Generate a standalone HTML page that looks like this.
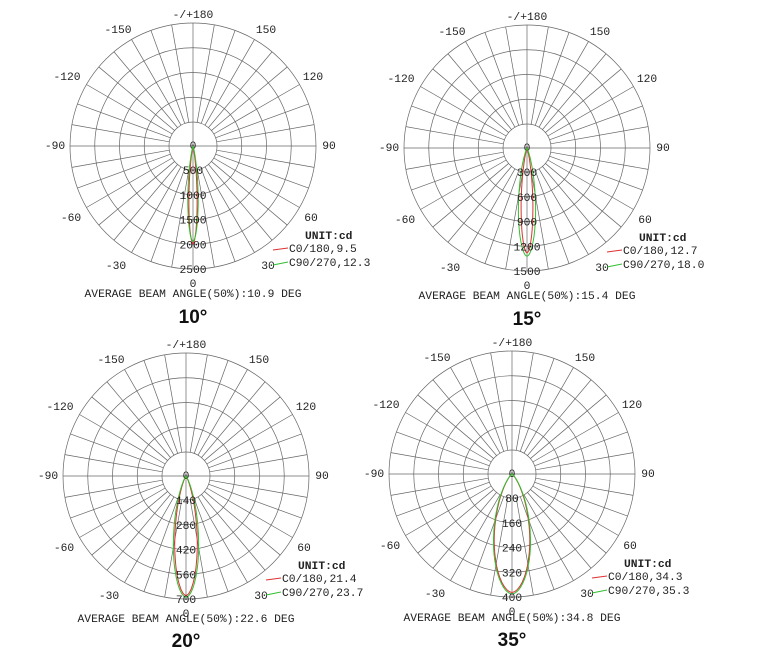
<!DOCTYPE html>
<html><head><meta charset="utf-8"><style>
body{margin:0;background:#fff;width:768px;height:660px;overflow:hidden}
svg{position:absolute;left:0;top:0}
text{font-family:"Liberation Mono",monospace;font-size:11.3px;fill:#222}
.t{font-family:"Liberation Sans",sans-serif;font-size:19px;font-weight:bold;fill:#111}
</style></head><body>
<svg id="s" width="768" height="660" xmlns="http://www.w3.org/2000/svg"></svg>
<script>
var charts=[
 {cx:193,cy:146,vals:[500,1000,1500,2000,2500],peak:[1990,1940],bw:[9.5,12.3],avg:"10.9",t:"10°",ao:151,to:177},
 {cx:527,cy:148,vals:[300,600,900,1200,1500],peak:[1280,1320],bw:[12.7,18.0],avg:"15.4",t:"15°",ao:151,to:177},
 {cx:186,cy:476,vals:[140,280,420,560,700],peak:[680,690],bw:[21.4,23.7],avg:"22.6",t:"20°",ao:146,to:171},
 {cx:512,cy:474,vals:[80,160,240,320,400],peak:[385,390],bw:[34.3,35.3],avg:"34.8",t:"35°",ao:147,to:172}
];
var h="",R=123,r0=24;
charts.forEach(function(c){
 var cx=c.cx,cy=c.cy;
 for(var i=0;i<5;i++){var rr=r0+(R-r0)*i/4;h+='<circle cx="'+cx+'" cy="'+cy+'" r="'+rr+'" fill="none" stroke="#666" stroke-width="0.7"/>';}
 for(var a=0;a<360;a+=10){var rad=a*Math.PI/180,s=Math.sin(rad),co=Math.cos(rad);var st=(a%90==0)?0:r0;
  h+='<line x1="'+(cx+st*s)+'" y1="'+(cy+st*co)+'" x2="'+(cx+R*s)+'" y2="'+(cy+R*co)+'" stroke="#666" stroke-width="0.7"/>';}
 var L=[["-/+180",0,-128],["150",73,-113],["-150",-75,-113],["120",120,-66],["-120",-126,-66],["90",136,3],["-90",-138,3],["60",118,75],["-60",-122,75],["30",75,123],["-30",-77,123],["0",0,141]];
 L.forEach(function(l){h+='<text x="'+(cx+l[1])+'" y="'+(cy+l[2])+'" text-anchor="middle">'+l[0]+'</text>';});
 h+='<text x="'+cx+'" y="'+(cy+3)+'" text-anchor="middle">0</text>';
 var max=c.vals[4];
 ["#e03030","#30c030"].forEach(function(col,k){
  var half=c.bw[k]/2,p=[];
  for(var th=-80;th<=80;th+=0.5){var I=c.peak[k]*Math.exp(-Math.LN2*Math.pow(Math.abs(th)/half,1.8));var r=I/max*R;var rad=th*Math.PI/180;p.push((cx+r*Math.sin(rad)).toFixed(1)+","+(cy+r*Math.cos(rad)).toFixed(1));}
  h+='<polyline points="'+p.join(" ")+'" fill="none" stroke="'+col+'" stroke-width="1"/>';
 });
 for(var i=0;i<5;i++){var rr=r0+(R-r0)*i/4;h+='<text x="'+cx+'" y="'+(cy+rr+4)+'" text-anchor="middle">'+c.vals[i]+'</text>';}
 h+='<text x="'+(cx+112)+'" y="'+(cy+93)+'" style="font-weight:bold">UNIT:cd</text>';
 h+='<line x1="'+(cx+80)+'" y1="'+(cy+104)+'" x2="'+(cx+95)+'" y2="'+(cy+102)+'" stroke="#e03030"/>';
 h+='<text x="'+(cx+96)+'" y="'+(cy+106)+'">C0/180,'+c.bw[0]+'</text>';
 h+='<line x1="'+(cx+80)+'" y1="'+(cy+119)+'" x2="'+(cx+95)+'" y2="'+(cy+116)+'" stroke="#30c030"/>';
 h+='<text x="'+(cx+96)+'" y="'+(cy+120)+'">C90/270,'+c.bw[1].toFixed(1)+'</text>';
 h+='<text x="'+cx+'" y="'+(cy+c.ao)+'" text-anchor="middle">AVERAGE BEAM ANGLE(50%):'+c.avg+' DEG</text>';
 h+='<text class="t" x="'+cx+'" y="'+(cy+c.to)+'" text-anchor="middle">'+c.t+'</text>';
});
document.getElementById("s").innerHTML=h;
</script>
</body></html>
